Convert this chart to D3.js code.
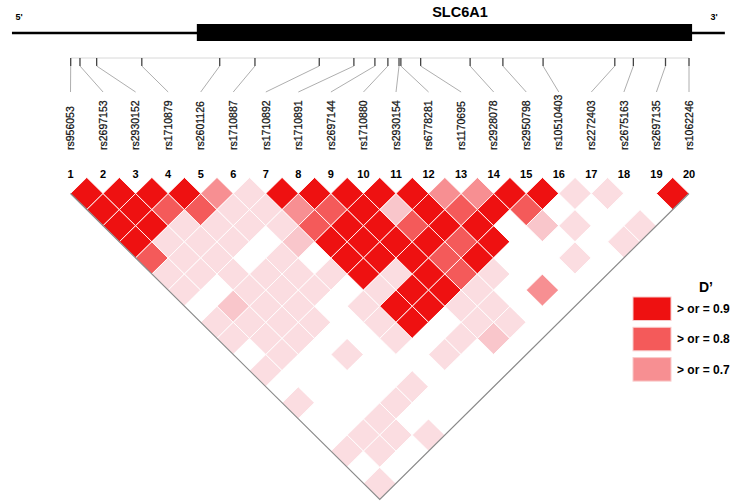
<!DOCTYPE html>
<html>
<head>
<meta charset="utf-8">
<title>SLC6A1 LD plot</title>
<style>
  body { margin: 0; background: #fff; }
  svg { display: block; font-family: "Liberation Sans", Arial, sans-serif; }
</style>
</head>
<body>
<div id="chart"></div>
<script src="https://d3js.org/d3.v7.min.js"></script>
<script>
// SNPs in gene order
const snpNames = ["rs956053", "rs2697153", "rs2930152", "rs1710879", "rs2601126",
  "rs1710887", "rs1710892", "rs1710891", "rs2697144", "rs1710880", "rs2930154",
  "rs6778281", "rs1170695", "rs2928078", "rs2950798", "rs10510403", "rs2272403",
  "rs2675163", "rs2697135", "rs1062246"];

// relative physical position of each SNP (0 = first, 100 = last)
const snpPos = [0, 1.5, 4.2, 11.5, 24.1, 29.8, 40.2, 45.8, 49.2, 51.3,
  53.1, 53.4, 56.6, 64.6, 69.9, 76.4, 88.0, 91.0, 96.2, 100];

// gene model on the same ruler
const geneSpan = [-9.5, 105.8];
const exonSpan = [20.4, 100.5];

// pairwise D' : row i holds SNP i against SNPs i+1 .. 20
const dprime = [
  [0.95, 0.95, 0.95, 0.95, 0.85, 0.3, 0.3, 0.1, 0.3, 0.3, 0.1, 0.3, 0.1, 0.3, 0.1, 0.1, 0.3, 0.1, 0.3],
  [0.95, 0.95, 0.95, 0.3, 0.3, 0.3, 0.1, 0.5, 0.3, 0.3, 0.3, 0.1, 0.1, 0.1, 0.1, 0.3, 0.3, 0.1],
  [0.95, 0.85, 0.3, 0.3, 0.3, 0.3, 0.3, 0.3, 0.3, 0.3, 0.1, 0.1, 0.1, 0.1, 0.3, 0.3, 0.1],
  [0.95, 0.85, 0.3, 0.3, 0.1, 0.3, 0.3, 0.3, 0.3, 0.1, 0.3, 0.1, 0.1, 0.3, 0.1, 0.3],
  [0.75, 0.3, 0.3, 0.1, 0.3, 0.3, 0.3, 0.1, 0.1, 0.1, 0.1, 0.1, 0.3, 0.1, 0.1],
  [0.3, 0.3, 0.3, 0.5, 0.1, 0.3, 0.1, 0.3, 0.3, 0.3, 0.1, 0.1, 0.1, 0.1],
  [0.95, 0.75, 0.85, 0.95, 0.95, 0.95, 0.3, 0.95, 0.95, 0.1, 0.3, 0.1, 0.1],
  [0.95, 0.85, 0.95, 0.95, 0.95, 0.3, 0.95, 0.95, 0.1, 0.3, 0.1, 0.1],
  [0.95, 0.95, 0.95, 0.95, 0.95, 0.95, 0.95, 0.3, 0.3, 0.5, 0.1],
  [0.95, 0.5, 0.85, 0.95, 0.85, 0.85, 0.3, 0.3, 0.3, 0.1],
  [0.95, 0.95, 0.95, 0.85, 0.95, 0.3, 0.1, 0.1, 0.1],
  [0.75, 0.85, 0.95, 0.95, 0.1, 0.1, 0.75, 0.1],
  [0.75, 0.95, 0.1, 0.1, 0.1, 0.1, 0.1],
  [0.95, 0.85, 0.5, 0.1, 0.3, 0.1],
  [0.95, 0.1, 0.3, 0.1, 0.1],
  [0.3, 0.1, 0.1, 0.3],
  [0.3, 0.1, 0.3],
  [0.1, 0.1],
  [0.95]
];

const legendCuts = [0.9, 0.8, 0.7];
const legendLabels = ["> or = 0.9", "> or = 0.8", "> or = 0.7"];

const width = 735, height = 502;
const svg = d3.select("#chart").append("svg")
  .attr("width", width).attr("height", height);

// scales
const pos = d3.scaleLinear().domain([0, 100]).range([70.7, 689]);   // physical ruler
const x = d3.scaleLinear().domain([1, 20]).range([70.5, 689]);      // SNP index
const y = d3.scaleLinear().domain([0, 19]).range([177.4, 483.3]);   // pair distance
const color = d3.scaleThreshold()
  .domain([0.2, 0.4, 0.7, 0.8, 0.9])
  .range(["#ffffff", "#fbdde1", "#f9c6cb", "#f78f92", "#f45a5a", "#ee1111"]);

// gene model
svg.append("line")
  .attr("x1", pos(geneSpan[0])).attr("x2", pos(geneSpan[1]))
  .attr("y1", 33).attr("y2", 33)
  .attr("stroke", "#000").attr("stroke-width", 2.5);
svg.append("rect")
  .attr("x", pos(exonSpan[0])).attr("y", 24)
  .attr("width", pos(exonSpan[1]) - pos(exonSpan[0])).attr("height", 17)
  .attr("fill", "#000");
svg.append("text").attr("x", 460).attr("y", 17)
  .attr("text-anchor", "middle").attr("font-size", 14.5).attr("font-weight", "bold")
  .text("SLC6A1");
svg.append("text").attr("x", 19).attr("y", 20)
  .attr("text-anchor", "middle").attr("font-size", 9).attr("font-weight", "bold")
  .text("5'");
svg.append("text").attr("x", 714).attr("y", 20)
  .attr("text-anchor", "middle").attr("font-size", 9).attr("font-weight", "bold")
  .text("3'");

// ruler with SNP ticks
svg.append("line")
  .attr("x1", pos(0)).attr("x2", pos(100))
  .attr("y1", 58).attr("y2", 58)
  .attr("stroke", "#d8d8d8").attr("stroke-width", 1);
svg.selectAll(".tick").data(snpPos).join("line")
  .attr("class", "tick")
  .attr("x1", d => pos(d)).attr("x2", d => pos(d))
  .attr("y1", 58).attr("y2", 66)
  .attr("stroke", "#444").attr("stroke-width", 1.3);
svg.selectAll(".conn").data(snpPos).join("line")
  .attr("class", "conn")
  .attr("x1", d => pos(d)).attr("y1", 66)
  .attr("x2", (d, i) => x(i + 1)).attr("y2", 92)
  .attr("stroke", "#999").attr("stroke-width", 0.8);

// SNP names, rotated
svg.selectAll(".snp").data(snpNames).join("text")
  .attr("class", "snp")
  .attr("transform", (d, i) => `translate(${x(i + 1)},150) rotate(-90)`)
  .attr("dy", "0.35em")
  .attr("font-size", 10.5)
  .attr("fill", "#111")
  .attr("stroke", "#111").attr("stroke-width", 0.25)
  .text(d => d);

// SNP numbers
svg.selectAll(".num").data(snpNames).join("text")
  .attr("class", "num")
  .attr("x", (d, i) => x(i + 1)).attr("y", 178)
  .attr("text-anchor", "middle").attr("font-size", 11).attr("font-weight", "bold")
  .text((d, i) => i + 1);

// LD diamonds
const cells = [];
dprime.forEach((row, a) => row.forEach((v, b) => {
  cells.push({ i: a + 1, j: a + b + 2, v });
}));
const hw = (x(2) - x(1)) / 2;
const hh = y(1) - y(0);
svg.append("g").selectAll("path").data(cells).join("path")
  .attr("d", c => {
    const cx = x((c.i + c.j) / 2), cy = y(c.j - c.i);
    return `M${cx},${cy - hh}L${cx + hw},${cy}L${cx},${cy + hh}L${cx - hw},${cy}Z`;
  })
  .attr("fill", c => color(c.v))
  .attr("stroke", "#fff").attr("stroke-width", 0.9);

// triangle outline (lower two sides)
svg.append("path")
  .attr("d", `M${x(1)},${y(1)}L${x(10.5)},${y(19) + hh}L${x(20)},${y(1)}`)
  .attr("fill", "none").attr("stroke", "#8a8a8a").attr("stroke-width", 1.2);

// legend
const lg = svg.append("g");
lg.append("text").attr("x", 706).attr("y", 292)
  .attr("text-anchor", "middle").attr("font-size", 14).attr("font-weight", "bold")
  .text("D\u2019");
lg.selectAll("rect").data(legendCuts).join("rect")
  .attr("x", 633).attr("y", (d, k) => 297 + k * 30.3)
  .attr("width", 38).attr("height", 23.5)
  .attr("fill", d => color(d + 0.01))
  .attr("stroke", "#f8caca").attr("stroke-width", 1);
lg.selectAll(".lab").data(legendLabels).join("text")
  .attr("class", "lab")
  .attr("x", 677).attr("y", (d, k) => 313 + k * 30.3)
  .attr("font-size", 12).attr("font-weight", "bold")
  .text(d => d);
</script>
</body>
</html>
